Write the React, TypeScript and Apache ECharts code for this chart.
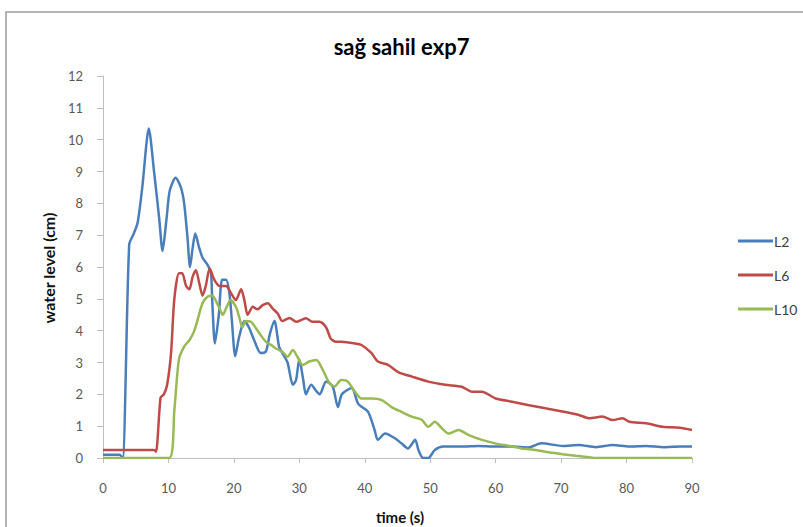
import React, { useEffect, useRef } from "react";
import * as echarts from "echarts";

const seriesNames = ["L2", "L6", "L10"];
const seriesColors = ["#4a7ebb", "#be4b48", "#98b954"];

const l2Data: [number, number][] = [
  [0, 0.1], [2.5, 0.1], [3.0, 0], [4.0, 6.7], [4.7, 7.05], [5.3, 7.4], [6.0, 8.5], [7.0, 10.35],
  [7.8, 9.0], [8.6, 7.5], [9.1, 6.5], [9.7, 7.5], [10.2, 8.4], [11.1, 8.8], [11.9, 8.5],
  [12.4, 8.0], [12.9, 6.95], [13.3, 6.0], [13.7, 6.6], [14.1, 7.05], [14.7, 6.6], [15.2, 6.3],
  [16.0, 6.06], [16.5, 5.8], [16.7, 4.9], [17.1, 3.6], [17.7, 4.5], [18.2, 5.6], [18.8, 5.6],
  [19.3, 5.2], [19.7, 4.3], [20.2, 3.2], [20.8, 3.8], [21.6, 4.3], [22.3, 4.1], [23.1, 3.7],
  [24.1, 3.3], [24.9, 3.35], [25.5, 3.9], [26.2, 4.3], [26.9, 3.5], [27.4, 3.3], [28.2, 3.0],
  [29.0, 2.3], [29.5, 2.45], [30.0, 3.1], [30.6, 2.45], [31.0, 2.0], [31.8, 2.3], [32.6, 2.1],
  [33.1, 2.0], [34.1, 2.4], [35.1, 2.25], [35.9, 1.6], [36.5, 2.0], [38.0, 2.2], [39.0, 1.7],
  [40.5, 1.45], [41.5, 0.88], [42.0, 0.57], [43.1, 0.77], [44.6, 0.62], [45.6, 0.46],
  [46.6, 0.3], [47.7, 0.57], [48.2, 0.25], [48.9, 0], [49.7, 0], [50.7, 0.25], [52, 0.36],
  [54.8, 0.36], [57.4, 0.38], [59.9, 0.36], [62.5, 0.36], [65, 0.33], [67, 0.46], [70.3, 0.38],
  [72.7, 0.41], [75.3, 0.34], [77.9, 0.41], [80.4, 0.36], [83, 0.38], [85.7, 0.34], [88.2, 0.36],
  [90, 0.36],
];

const l6Data: [number, number][] = [
  [0, 0.25], [7.8, 0.25], [8.1, 0.2], [8.8, 1.9], [9.3, 2.0], [9.8, 2.3], [10.4, 3.3],
  [10.9, 5.0], [11.6, 5.8], [12.1, 5.8], [12.7, 5.4], [13.2, 5.3], [13.7, 5.7], [14.2, 5.9],
  [14.7, 5.5], [15.2, 5.1], [15.7, 5.4], [16.3, 5.95], [17.0, 5.6], [17.8, 5.4], [18.8, 5.4],
  [19.5, 5.2], [20.3, 4.96], [21.1, 5.3], [21.6, 4.96], [22.1, 4.5], [22.9, 4.75], [23.6, 4.67],
  [24.4, 4.8], [25.2, 4.86], [25.9, 4.7], [26.7, 4.54], [27.4, 4.3], [28.5, 4.4], [29.5, 4.28],
  [31.0, 4.39], [32.0, 4.28], [33.1, 4.28], [34.1, 4.1], [34.8, 3.75], [35.6, 3.65],
  [36.4, 3.65], [38.5, 3.6], [39.5, 3.55], [41, 3.3], [42, 3.03], [43.6, 2.92], [45.1, 2.7],
  [47.3, 2.55], [49.7, 2.4], [52.3, 2.3], [54.8, 2.24], [56.4, 2.08], [57.9, 2.08], [60, 1.87],
  [62.5, 1.77], [65.1, 1.66], [67.6, 1.56], [70.2, 1.46], [72.7, 1.35], [74.3, 1.25],
  [76.3, 1.3], [77.9, 1.19], [79.4, 1.25], [80.4, 1.14], [83, 1.09], [85.5, 0.98], [88.1, 0.95],
  [90, 0.88],
];

const l10Data: [number, number][] = [
  [0, 0], [10.1, 0], [10.9, 1.5], [11.6, 3.1], [12.4, 3.5], [13.2, 3.7], [13.9, 3.97],
  [14.4, 4.3], [15.2, 4.86], [16.0, 5.07], [16.7, 5.1], [17.2, 4.96], [17.8, 4.7], [18.3, 4.5],
  [18.8, 4.7], [19.5, 4.96], [20.3, 4.75], [20.8, 4.44], [21.3, 4.1], [21.8, 4.3], [22.6, 4.28],
  [23.4, 4.07], [24.1, 3.86], [24.9, 3.65], [25.7, 3.55], [26.4, 3.44], [27.4, 3.34],
  [28.2, 3.18], [29.0, 3.39], [29.7, 3.18], [30.5, 2.92], [31.5, 3.03], [32.6, 3.08],
  [33.6, 2.76], [34.6, 2.35], [35.4, 2.25], [36.4, 2.45], [37.4, 2.4], [38.5, 2.08],
  [39.5, 1.87], [41, 1.87], [42.6, 1.82], [44.1, 1.6], [45.6, 1.45], [47.2, 1.3], [48.7, 1.2],
  [49.7, 0.98], [50.7, 1.14], [51.8, 0.93], [52.8, 0.77], [54.3, 0.88], [55.9, 0.72],
  [57.9, 0.57], [59.9, 0.46], [62, 0.38], [64, 0.3], [66.1, 0.25], [68.1, 0.18], [70.2, 0.12],
  [72.2, 0.07], [74.3, 0.02], [75, 0], [90, 0],
];

const allData = [l2Data, l6Data, l10Data];

const titleText = "sağ sahil exp7";
const xAxisName = "time (s)";
const yAxisName = "water level (cm)";

export default function App() {
  const ref = useRef<HTMLDivElement>(null);
  useEffect(() => {
    document.body.style.margin = "0";
    const chart = echarts.init(ref.current!, null, { renderer: "svg" });
    const font = "Lato, 'Open Sans', sans-serif";
    chart.setOption({
      animation: false,
      backgroundColor: "#ffffff",
      textStyle: { fontFamily: font },
      title: {
        text: titleText,
        left: "center",
        top: 30,
        textStyle: { fontFamily: font, fontSize: 22, fontWeight: "bold", color: "#000" },
      },
      graphic: [
        {
          type: "rect",
          shape: { x: 6, y: 12, width: 900, height: 700 },
          style: { fill: "none", stroke: "#9a9a9a", lineWidth: 1.5 },
          silent: true,
        },
        {
          type: "text",
          x: 400,
          y: 517,
          style: {
            text: xAxisName,
            fontFamily: font,
            fontSize: 15,
            fontWeight: "bold",
            fill: "#111",
            align: "center",
            verticalAlign: "middle",
          },
        },
        {
          type: "text",
          x: 48,
          y: 268,
          rotation: Math.PI / 2,
          style: {
            text: yAxisName,
            fontFamily: font,
            fontSize: 16,
            fontWeight: "bold",
            fill: "#111",
            align: "center",
            verticalAlign: "middle",
          },
        },
      ],
      legend: {
        orient: "vertical",
        left: 733,
        top: 229,
        icon: "rect",
        itemWidth: 35,
        itemHeight: 3,
        itemGap: 20,
        data: seriesNames,
        textStyle: {
          fontFamily: font,
          fontSize: 14,
          lineHeight: 14,
          color: "#404040",
          padding: [0, 0, 0, -4],
        },
      },
      grid: { left: 103, right: 111, top: 76, bottom: 69 },
      xAxis: {
        type: "value",
        min: 0,
        max: 90,
        interval: 10,
        axisLine: { show: true, lineStyle: { color: "#bfbfbf", width: 1 } },
        axisTick: { show: true, length: 5, lineStyle: { color: "#bfbfbf" } },
        axisLabel: { fontFamily: font, fontSize: 13, color: "#595959", margin: 23 },
        splitLine: { show: false },
      },
      yAxis: {
        type: "value",
        min: 0,
        max: 12,
        interval: 1,
        axisLine: { show: true, lineStyle: { color: "#bfbfbf", width: 1 } },
        axisTick: { show: true, length: 6, lineStyle: { color: "#bfbfbf" } },
        axisLabel: { fontFamily: font, fontSize: 13, color: "#595959", margin: 20 },
        splitLine: { show: false },
      },
      series: seriesNames.map((name, i) => ({
        name,
        type: "line",
        data: allData[i],
        symbol: "none",
        smooth: 0.25,
        lineStyle: { color: seriesColors[i], width: 2.5 },
        itemStyle: { color: seriesColors[i] },
      })),
    });
    return () => chart.dispose();
  }, []);
  return (
    <div
      ref={ref}
      style={{ position: "absolute", left: 0, top: 0, width: 803, height: 527 }}
    />
  );
}
